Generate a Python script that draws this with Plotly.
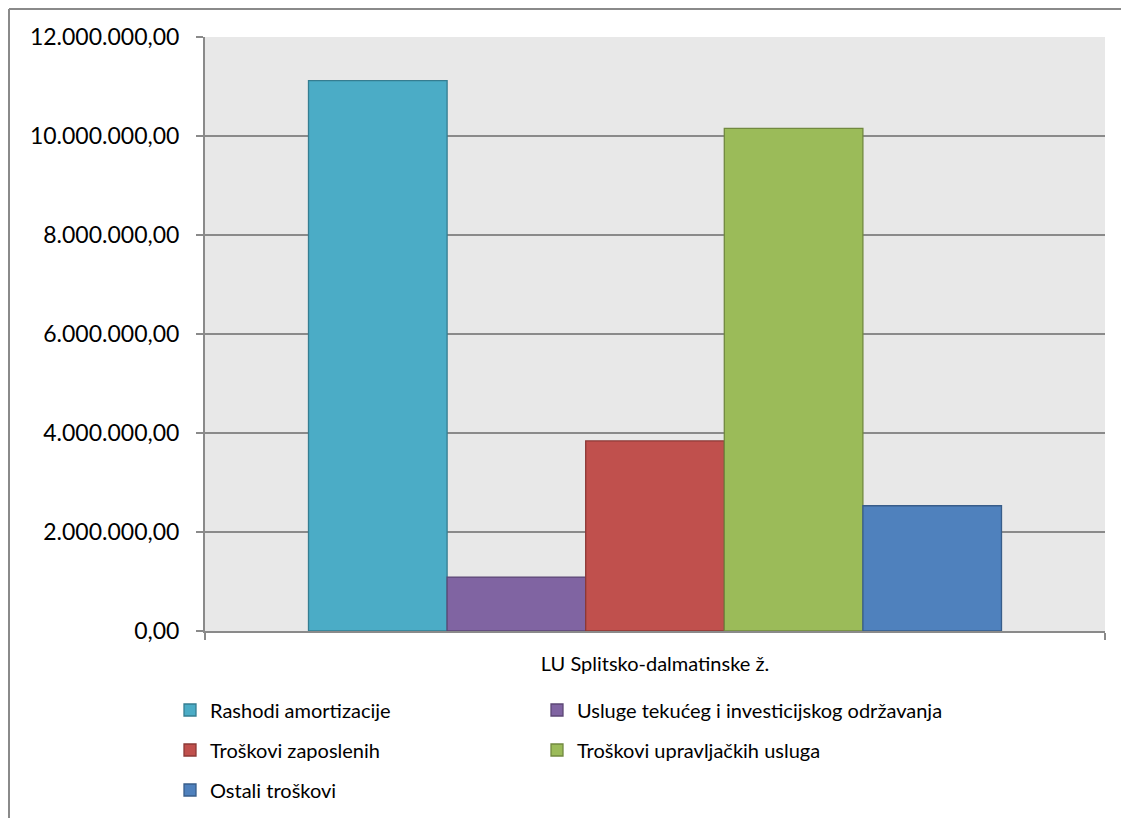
import plotly.graph_objects as go

category = ["LU Splitsko-dalmatinske ž."]
series_names = [
    "Rashodi amortizacije",
    "Usluge tekućeg i investicijskog održavanja",
    "Troškovi zaposlenih",
    "Troškovi upravljačkih usluga",
    "Ostali troškovi",
]
series_values = [11120000, 1090000, 3840000, 10155000, 2530000]
fill_colors = ["#4BACC6", "#8064A2", "#C0504D", "#9BBB59", "#4F81BD"]
line_colors = ["#357D91", "#5C4776", "#8C3836", "#71893F", "#385D8A"]
y_ticks = [0, 2000000, 4000000, 6000000, 8000000, 10000000, 12000000]

FONT = "Lato, 'Open Sans', sans-serif"
W, H = 1129, 818
OFF = 8  # page offset of the figure inside the browser window
L, R, T, B = 205 - OFF, 24 + OFF, 37 - OFF, 187 + OFF
PW, PH = W - L - R, H - T - B


def px_x(x):
    return (x - OFF - L) / PW


def px_y(y):
    return (H - B - (y - OFF)) / PH


# legend slot (left edge, row centre) for each series, in page pixels
legend_slots = [(170, 710), (537, 710), (170, 750), (537, 750), (170, 790)]
legend_ids = ["legend", "legend2", "legend3", "legend4", "legend5"]

fig = go.Figure()
for name, val, fc, lc, lg in zip(series_names, series_values, fill_colors, line_colors, legend_ids):
    fig.add_trace(go.Bar(
        x=category, y=[val], name=name, legend=lg, showlegend=True,
        marker=dict(color=fc, line=dict(color=lc, width=1.3)),
    ))

legend_common = dict(
    orientation="h", xanchor="left", yanchor="middle",
    font=dict(family=FONT, size=20, color="#000000"),
    bgcolor="rgba(0,0,0,0)", borderwidth=0,
    itemclick=False, itemdoubleclick=False,
)
legend_layout = {
    lg: dict(x=px_x(sx), y=px_y(sy), **legend_common)
    for lg, (sx, sy) in zip(legend_ids, legend_slots)
}

fig.update_layout(
    width=W, height=H,
    showlegend=True,
    margin=dict(l=L, r=R, t=T, b=B, autoexpand=False),
    paper_bgcolor="#FFFFFF",
    plot_bgcolor="#E8E8E8",
    separators=",.",
    barmode="group", bargap=0.23, bargroupgap=0,
    font=dict(family=FONT, color="#000000"),
    xaxis=dict(
        type="category", range=[-0.5, 0.5],
        showline=True, linecolor="#8A8A8A", linewidth=2,
        ticks="outside", tickson="boundaries", ticklen=7, tickcolor="#8A8A8A", tickwidth=2,
        tickfont=dict(family=FONT, size=20), showgrid=False, ticklabelstandoff=14,
    ),
    yaxis=dict(
        range=[0, 12000000], tickvals=y_ticks, tickformat=",.2f",
        showline=True, linecolor="#8A8A8A", linewidth=2,
        ticks="outside", ticklen=7, tickcolor="#8A8A8A", tickwidth=2,
        showgrid=True, gridcolor="#8A8A8A", gridwidth=2, zeroline=False,
        tickfont=dict(family=FONT, size=23), ticklabelstandoff=12,
    ),
    shapes=[
        dict(type="line", xref="paper", yref="paper", x0=px_x(9), x1=px_x(1140),
             y0=px_y(9), y1=px_y(9), line=dict(color="#8A8A8A", width=2)),
        dict(type="line", xref="paper", yref="paper", x0=px_x(9), x1=px_x(9),
             y0=px_y(9), y1=px_y(830), line=dict(color="#8A8A8A", width=2)),
    ],
    **legend_layout,
)

fig.write_html("out.html")
